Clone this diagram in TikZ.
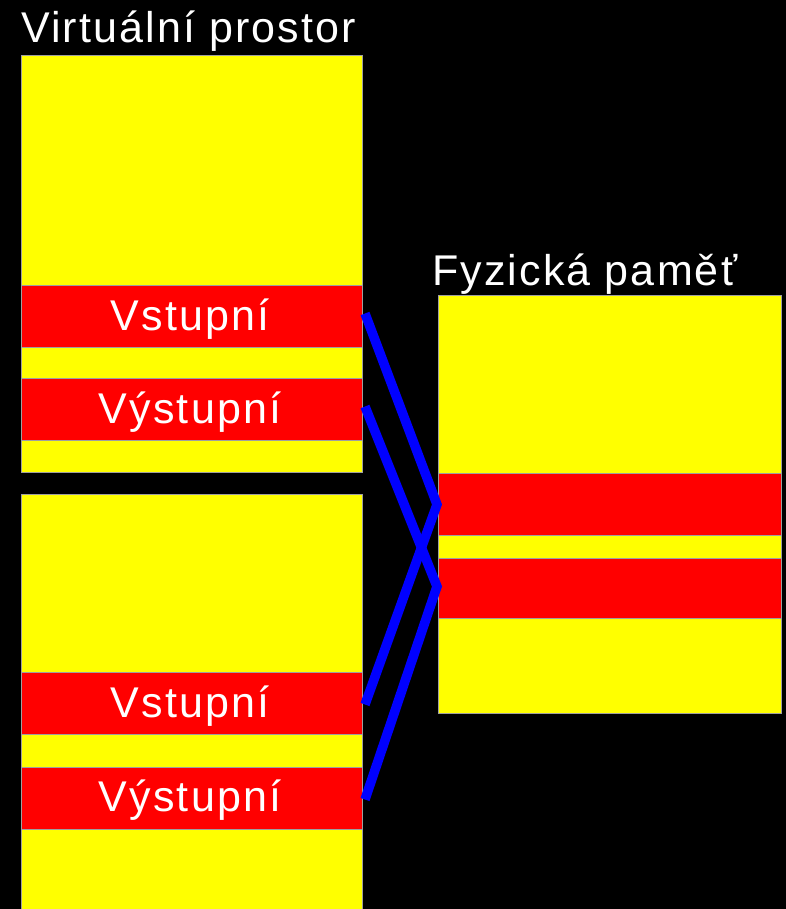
\documentclass[tikz,border=0pt]{standalone}
\usepackage{fontspec}
\setmainfont[LetterSpace=5]{Liberation Sans}
\definecolor{yel}{RGB}{255,255,0}
\definecolor{rd}{RGB}{255,0,0}
\definecolor{bl}{RGB}{0,0,255}
\begin{document}
\begin{tikzpicture}[x=1pt,y=-1pt,
  blk/.style={draw=gray!75,line width=1pt,fill=#1,inner sep=0pt,anchor=north west},
  ybox/.style={blk=yel},
  rband/.style={blk=rd},
  lbl/.style={text=white,font=\fontsize{43}{43}\selectfont,inner sep=0pt,anchor=base},
  conn/.style={draw=bl,line width=9.5pt,line cap=butt,line join=miter}]
\fill[black] (0,0) rectangle (786,909);
\useasboundingbox (0,0) rectangle (786,909);
\clip (0,0) rectangle (786,909);
% titles
\node[lbl,anchor=base west] (tv) at (21,43) {Virtuální prostor};
\node[lbl,anchor=base west] (tf) at (432,285) {Fyzická paměť};
% virtual space, upper block
\node[ybox,minimum width=341pt,minimum height=417pt] (vtop) at (21,55) {};
\node[rband,minimum width=341pt,minimum height=62pt] (vin1) at (21,285) {};
\node[rband,minimum width=341pt,minimum height=62pt] (vout1) at (21,378) {};
% virtual space, lower block
\node[ybox,minimum width=341pt,minimum height=430pt] (vbot) at (21,494) {};
\node[rband,minimum width=341pt,minimum height=62pt] (vin2) at (21,672) {};
\node[rband,minimum width=341pt,minimum height=62pt] (vout2) at (21,767) {};
% physical memory
\node[ybox,minimum width=343pt,minimum height=418pt] (phys) at (438,295) {};
\node[rband,minimum width=343pt,minimum height=62pt] (pin) at (438,473) {};
\node[rband,minimum width=343pt,minimum height=60pt] (pout) at (438,558) {};
% labels
\node[lbl] (l1) at (190,330) {Vstupní};
\node[lbl] (l2) at (190,423) {Výstupní};
\node[lbl] (l3) at (190,717) {Vstupní};
\node[lbl] (l4) at (190,811) {Výstupní};
% connectors
\draw[conn] ([xshift=2pt,yshift=3pt]vin1.east) -- ([xshift=-1pt]pin.west) -- ([xshift=2pt,yshift=-1pt]vin2.east);
\draw[conn] ([xshift=2pt,yshift=3pt]vout1.east) -- ([xshift=-1pt,yshift=2pt]pout.west) -- ([xshift=2pt,yshift=-1pt]vout2.east);
\end{tikzpicture}
\end{document}
